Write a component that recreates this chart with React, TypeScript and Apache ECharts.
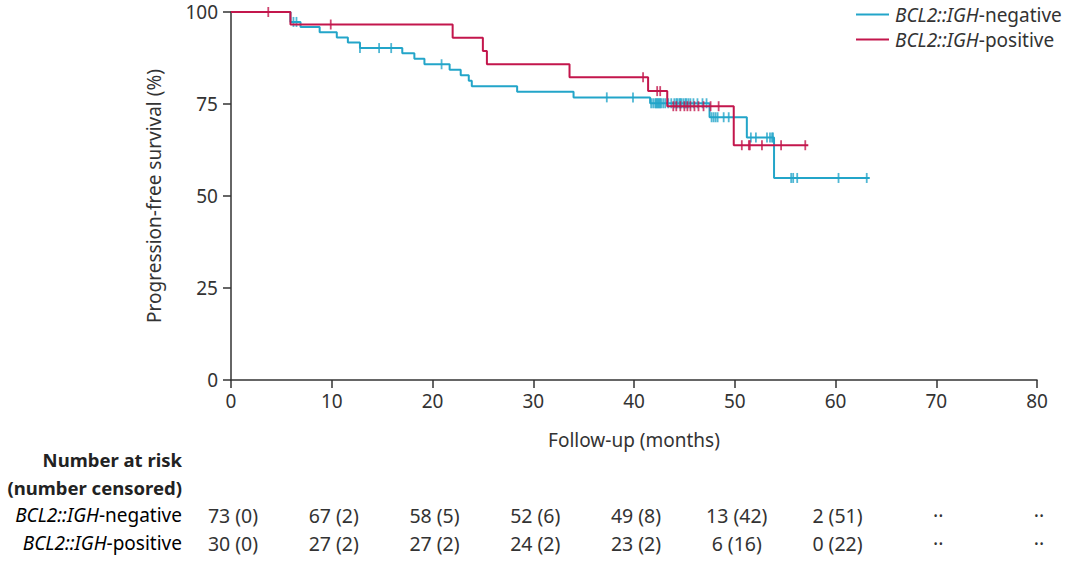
import React, { useEffect, useRef } from 'react';
import * as echarts from 'echarts';

const NEG = 'BCL2::IGH-negative';
const POS = 'BCL2::IGH-positive';
const NEG_COLOR = '#23a5c9';
const POS_COLOR = '#c3164c';
const FONT = '"Noto Sans", "Open Sans", sans-serif';
const TXT = '#333333';
const FS = 19;

// Kaplan-Meier steps: [month, survival % after the step]
const negSteps: [number, number][] = [
  [0, 100], [5.9, 97.3], [6.9, 95.9], [8.8, 94.5], [10.5, 93.1], [11.6, 91.7],
  [12.8, 90.2], [17.0, 88.8], [18.2, 87.3], [19.2, 85.8], [21.7, 84.3], [22.8, 82.8],
  [23.6, 81.3], [23.9, 79.8], [28.4, 78.3], [34.0, 76.8], [41.6, 75.2], [47.5, 71.4],
  [51.2, 65.9], [53.9, 54.9], [63.4, 54.9],
];
const posSteps: [number, number][] = [
  [0, 100], [5.9, 96.6], [22.0, 93.0], [25.0, 89.4], [25.4, 85.8], [33.6, 82.3],
  [41.4, 78.5], [43.3, 74.4], [49.9, 63.8], [57.3, 63.8],
];

// Censoring times (months)
const negCensor: number[] = [
  6.2, 6.5, 12.8, 14.7, 15.9, 20.9, 37.3, 39.9,
  41.7, 41.9, 42.1, 42.2, 42.3, 42.4, 42.5, 42.6, 42.7, 42.9, 43.1, 43.4, 43.7, 44.0,
  44.2, 44.3, 44.5, 44.6, 44.7, 44.9, 45.1, 45.2, 45.4, 45.6, 45.9, 46.3, 46.8, 47.2,
  47.7, 47.9, 48.1, 48.3, 48.9, 49.4,
  51.6, 52.1, 53.2, 53.5, 53.7, 53.8,
  55.6, 55.8, 56.2, 60.3, 63.1,
];
const posCensor: number[] = [
  3.7, 9.9, 40.9, 42.3, 42.6, 43.9, 44.2, 44.6, 45.0, 45.3, 45.6, 46.0, 46.4, 46.9,
  47.6, 48.4, 50.7, 51.4, 51.5, 52.7, 54.6, 57.0,
];

// Number at risk table
const riskTimes = [0, 10, 20, 30, 40, 50, 60, 70, 80];
const negRisk = ['73 (0)', '67 (2)', '58 (5)', '52 (6)', '49 (8)', '13 (42)', '2 (51)', '··', '··'];
const posRisk = ['30 (0)', '27 (2)', '27 (2)', '24 (2)', '23 (2)', '6 (16)', '0 (22)', '··', '··'];

const valueAt = (steps: [number, number][], t: number) => {
  let v = steps[0][1];
  for (const [x, y] of steps) if (x <= t) v = y;
  return v;
};

export default function App() {
  const ref = useRef<HTMLDivElement>(null);
  useEffect(() => {
    if (!ref.current) return;
    const chart = echarts.init(ref.current, undefined, { renderer: 'svg' });
    const axisLine = { show: true, lineStyle: { color: '#333', width: 1.5 } };
    const rich = {
      i: { fontStyle: 'italic', fontSize: FS, fontFamily: FONT, color: TXT },
      n: { fontSize: FS, fontFamily: FONT, color: TXT },
    };
    const fmt = (name: string) => {
      const k = name.indexOf('-');
      return `{i|${name.slice(0, k)}}{n|${name.slice(k)}}`;
    };
    chart.setOption({
      animation: false,
      textStyle: { fontFamily: FONT },
      grid: { left: 231, right: 43, top: 12, bottom: 181 },
      legend: {
        data: [NEG, POS],
        orient: 'vertical',
        left: 851,
        top: 0,
        itemGap: 6,
        itemWidth: 33,
        itemHeight: 2,
        icon: 'rect',
        formatter: fmt,
        textStyle: { rich, fontSize: FS, padding: [0, 0, 0, 1] },
      },
      xAxis: {
        type: 'value', min: 0, max: 80, interval: 10,
        axisLine, axisTick: { show: true, length: 8, lineStyle: { color: '#333', width: 1.5 } },
        axisLabel: { fontSize: FS, color: TXT, margin: 11, fontFamily: FONT },
        splitLine: { show: false },
        name: 'Follow-up (months)', nameLocation: 'middle', nameGap: 50,
        nameTextStyle: { fontSize: FS, color: TXT, fontFamily: FONT },
      },
      yAxis: {
        type: 'value', min: 0, max: 100, interval: 25,
        axisLine, axisTick: { show: true, length: 8, lineStyle: { color: '#333', width: 1.5 } },
        axisLabel: { fontSize: FS, color: TXT, margin: 13, fontFamily: FONT },
        splitLine: { show: false },
        name: 'Progression-free survival (%)', nameLocation: 'middle', nameGap: 68,
        nameTextStyle: { fontSize: FS, color: TXT, fontFamily: FONT },
      },
      series: [
        {
          name: NEG, type: 'line', step: 'end', data: negSteps, showSymbol: false,
          lineStyle: { color: NEG_COLOR, width: 2 }, itemStyle: { color: NEG_COLOR }, z: 2,
        },
        {
          name: NEG + ' censored', type: 'scatter', symbol: 'rect', symbolSize: [1.8, 10],
          data: negCensor.map((t) => [t, valueAt(negSteps, t)]),
          itemStyle: { color: NEG_COLOR }, z: 3,
        },
        {
          name: POS, type: 'line', step: 'end', data: posSteps, showSymbol: false,
          lineStyle: { color: POS_COLOR, width: 2 }, itemStyle: { color: POS_COLOR }, z: 4,
        },
        {
          name: POS + ' censored', type: 'scatter', symbol: 'rect', symbolSize: [1.8, 10],
          data: posCensor.map((t) => [t, valueAt(posSteps, t)]),
          itemStyle: { color: POS_COLOR }, z: 5,
        },
      ],
    });

    const labelRight = 182;
    const rowY = [459, 487, 515, 543];
    const graphics: any[] = [
      { type: 'text', x: labelRight, y: rowY[0], style: { text: 'Number at risk', font: `bold 18.5px ${FONT}`, fill: '#222', align: 'right', verticalAlign: 'middle' } },
      { type: 'text', x: labelRight, y: rowY[1], style: { text: '(number censored)', font: `bold 18.5px ${FONT}`, fill: '#222', align: 'right', verticalAlign: 'middle' } },
      { type: 'text', x: labelRight, y: rowY[2], style: { text: fmt(NEG), rich, align: 'right', verticalAlign: 'middle' } },
      { type: 'text', x: labelRight, y: rowY[3], style: { text: fmt(POS), rich, align: 'right', verticalAlign: 'middle' } },
    ];
    riskTimes.forEach((t, i) => {
      const x = chart.convertToPixel({ xAxisIndex: 0 }, t) as number;
      graphics.push({ type: 'text', x: x + 2, y: rowY[2], style: { text: negRisk[i], font: `${FS + 0.5}px ${FONT}`, fill: TXT, align: 'center', verticalAlign: 'middle' } });
      graphics.push({ type: 'text', x: x + 2, y: rowY[3], style: { text: posRisk[i], font: `${FS + 0.5}px ${FONT}`, fill: TXT, align: 'center', verticalAlign: 'middle' } });
    });
    chart.setOption({ graphic: graphics });
    return () => chart.dispose();
  }, []);
  return <div ref={ref} style={{ width: 1080, height: 561, position: 'absolute', left: 0, top: 0 }} />;
}
